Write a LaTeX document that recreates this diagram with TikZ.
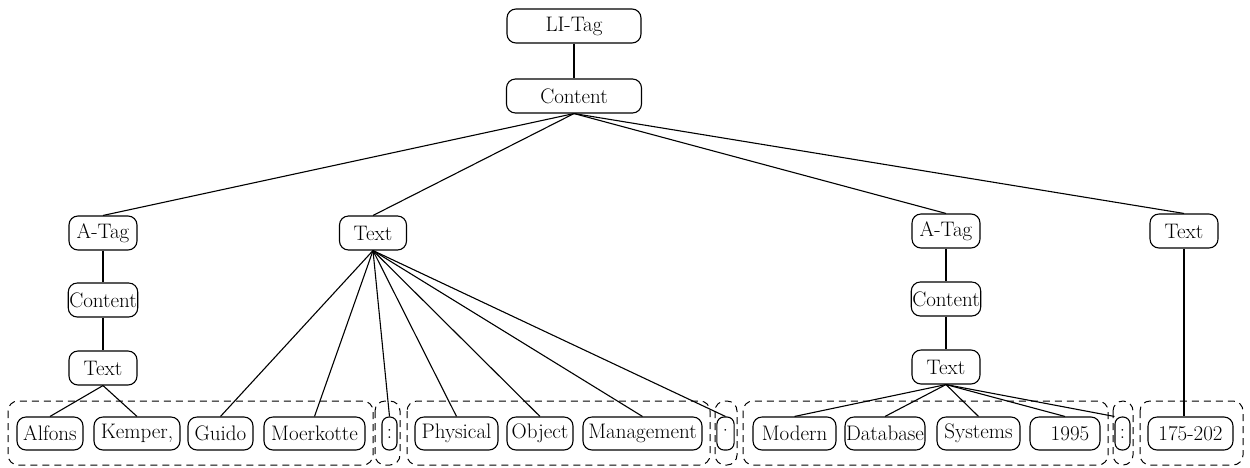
\documentclass[tikz,border=0pt]{standalone}
\usepackage{fontspec}
\setmainfont{Latin Modern Roman}
\begin{document}
\begin{tikzpicture}[x=1pt,y=-1pt,
  box/.style={draw,line width=1.1pt,rounded corners=9pt,minimum height=34pt,inner sep=1pt,font=\fontsize{21}{24}\selectfont},
  leaf/.style={box,minimum height=33pt},
  grp/.style={draw,line width=1pt,rounded corners=10pt,dash pattern=on 7pt off 5pt},
  edge/.style={line width=1.1pt}]
\useasboundingbox (0,0) rectangle (1250,467);
% upper tree
\node[box,minimum width=134pt] (li) at (574,26) {LI-Tag};
\node[box,minimum width=135pt] (c0) at (574,96) {Content};
\node[box,minimum width=68pt] (a1) at (103,233) {A-Tag};
\node[box,minimum width=68pt] (c1) at (103,300) {Content};
\node[box,minimum width=68pt] (t1) at (103,368) {Text};
\node[box,minimum width=67pt] (tm) at (373,233) {Text};
\node[box,minimum width=68pt] (a2) at (946,231) {A-Tag};
\node[box,minimum width=68pt] (c2) at (946,299) {Content};
\node[box,minimum width=68pt] (t2) at (946,367) {Text};
\node[box,minimum width=68pt] (t4) at (1184,231) {Text};
% leaves
\node[leaf,minimum width=66pt] (alfons) at (50,433.5) {Alfons};
\node[leaf,minimum width=86pt] (kemper) at (137,433.5) {Kemper,};
\node[leaf,minimum width=65pt] (guido) at (220.5,433.5) {Guido};
\node[leaf,minimum width=101pt] (moerkotte) at (314.5,433.5) {Moerkotte};
\node[leaf,minimum width=15pt,rounded corners=7pt] (col1) at (389.5,433.5) {:};
\node[leaf,minimum width=83pt] (physical) at (456.5,433.5) {Physical};
\node[leaf,minimum width=66pt] (object) at (540,433.5) {Object};
\node[leaf,minimum width=119pt] (management) at (642.5,433.5) {Management};
\node[leaf,minimum width=15pt,rounded corners=7pt] (col2) at (725.5,433.5) {·};
\node[leaf,minimum width=83pt] (modern) at (794.5,433.5) {Modern\hspace{6pt}};
\node[leaf,minimum width=80pt] (database) at (885,433.5) {Database};
\node[leaf,minimum width=83pt] (systems) at (978.5,433.5) {Systems};
\node[leaf,minimum width=70pt] (y1995) at (1065,433.5) {\hspace{10pt}1995};
\node[leaf,minimum width=15pt,rounded corners=7pt] (col3) at (1122.5,433.5) {:};
\node[leaf,minimum width=85pt] (n175) at (1190.5,433.5) {175-202};
% dashed groups
\draw[grp] (8,401) rectangle (373,465);
\draw[grp] (375,401) rectangle (400,465);
\draw[grp] (407,401) rectangle (710,465);
\draw[grp] (715,401) rectangle (737,465);
\draw[grp] (743,401) rectangle (1108,465);
\draw[grp] (1113,401) rectangle (1133,465);
\draw[grp] (1140,401) rectangle (1243,465);
% edges
\draw[edge] (li) -- (c0);
\draw[edge] (c0.south) -- (a1.north);
\draw[edge] (c0.south) -- (tm.north);
\draw[edge] (c0.south) -- (a2.north);
\draw[edge] (c0.south) -- (t4.north);
\draw[edge] (a1) -- (c1);
\draw[edge] (c1) -- (t1);
\draw[edge] (a2) -- (c2);
\draw[edge] (c2) -- (t2);
\draw[edge] (t1.south) -- (alfons.north);
\draw[edge] (t1.south) -- (kemper.north);
\foreach \n in {guido,moerkotte,col1,physical,object,management,col2}
  \draw[edge] (tm.south) -- (\n.north);
\foreach \n in {modern,database,systems,y1995}
  \draw[edge] (t2.south) -- (\n.north);
\draw[edge] (t2.south) -- (col3.north west);
\draw[edge] (t4.south) -- (t4.south |- n175.north);
\end{tikzpicture}
\end{document}
